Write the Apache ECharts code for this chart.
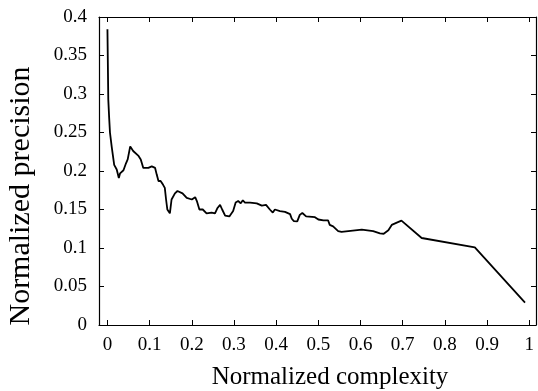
<!DOCTYPE html>
<html>
<head>
<meta charset="utf-8">
<script src="https://cdn.jsdelivr.net/npm/echarts@6/dist/echarts.min.js"></script>
<style>
html,body{margin:0;padding:0;background:#fff;}
#chart{width:538px;height:391px;}
</style>
</head>
<body>
<div id="chart"></div>
<script>
const complexity = [
  0, 0.002, 0.004, 0.006, 0.010, 0.016, 0.022, 0.027, 0.030, 0.038, 0.044, 0.048, 0.054, 0.061, 0.073, 0.079, 0.085, 0.097, 0.105, 0.113, 0.117, 0.121, 0.126, 0.132,
  0.136, 0.139, 0.142, 0.148, 0.152, 0.160, 0.166, 0.178, 0.188, 0.200, 0.208, 0.212, 0.218, 0.226, 0.235, 0.247, 0.255, 0.261, 0.267, 0.272, 0.279, 0.289, 0.298, 0.304, 0.310, 0.316, 0.321, 0.326, 0.338, 0.354, 0.366, 0.376, 0.385, 0.392, 0.397, 0.409, 0.421, 0.433,
  0.437, 0.442, 0.450, 0.456, 0.462, 0.471, 0.492, 0.500, 0.512, 0.523, 0.527, 0.535, 0.547, 0.555, 0.559, 0.603, 0.630, 0.646, 0.655, 0.666, 0.674, 0.686, 0.697, 0.745, 0.871, 0.990
];
const precision = [
  0.384, 0.293, 0.270, 0.250, 0.232, 0.208, 0.202, 0.191, 0.197, 0.201, 0.210, 0.215, 0.232, 0.226, 0.220, 0.215, 0.204, 0.204, 0.206, 0.204, 0.195, 0.187, 0.187, 0.182,
  0.178, 0.163, 0.150, 0.145, 0.163, 0.171, 0.174, 0.171, 0.165, 0.163, 0.166, 0.161, 0.150, 0.150, 0.145, 0.146, 0.145, 0.152, 0.156, 0.150, 0.142, 0.141, 0.148, 0.159, 0.161, 0.158, 0.162, 0.159, 0.159, 0.158, 0.155, 0.156, 0.150, 0.146, 0.150, 0.148, 0.147, 0.144,
  0.138, 0.135, 0.1345, 0.143, 0.1455, 0.141, 0.140, 0.137, 0.136, 0.136, 0.130, 0.128, 0.122, 0.121, 0.122, 0.124, 0.122, 0.119, 0.1185, 0.123, 0.130, 0.133, 0.1355, 0.113, 0.1007, 0.029
];
const xTicks = [0, 0.1, 0.2, 0.3, 0.4, 0.5, 0.6, 0.7, 0.8, 0.9, 1];
const xTitle = 'Normalized complexity';
const yTitle = 'Normalized precision';

const serif = '"Liberation Serif", "DejaVu Serif", serif';
const chart = echarts.init(document.getElementById('chart'), null, {renderer: 'canvas'});
const lineStyle = {color: '#000', width: 1.2};
const tickStyle = {color: '#000', width: 1};

const points = complexity.map((c, i) => [c, precision[i]]);

chart.setOption({
  animation: false,
  backgroundColor: '#fff',
  grid: {left: 99, right: 2, top: 17, bottom: 66, containLabel: false},
  xAxis: [{
    type: 'value', min: -0.02, max: 1.016,
    axisLine: {show: true, onZero: false, lineStyle: lineStyle},
    axisTick: {show: true, inside: true, length: 5, lineStyle: tickStyle, customValues: xTicks},
    axisLabel: {show: true, customValues: xTicks, margin: 11, color: '#000', fontFamily: serif, fontSize: 19,
      formatter: v => String(Math.round(v * 10) / 10)},
    splitLine: {show: false}
  }, {
    type: 'value', position: 'top', min: -0.02, max: 1.016,
    axisLine: {show: true, onZero: false, lineStyle: lineStyle},
    axisTick: {show: true, inside: true, length: 5, lineStyle: tickStyle, customValues: xTicks},
    axisLabel: {show: false},
    splitLine: {show: false}
  }],
  yAxis: [{
    type: 'value', min: 0, max: 0.4, interval: 0.05,
    axisLine: {show: true, onZero: false, lineStyle: lineStyle},
    axisTick: {show: true, inside: true, length: 5, lineStyle: tickStyle},
    axisLabel: {show: true, margin: 12, color: '#000', fontFamily: serif, fontSize: 19,
      formatter: v => String(Math.round(v * 100) / 100)},
    splitLine: {show: false}
  }, {
    type: 'value', position: 'right', min: 0, max: 0.4, interval: 0.05,
    axisLine: {show: true, onZero: false, lineStyle: lineStyle},
    axisTick: {show: true, inside: true, length: 5, lineStyle: tickStyle},
    axisLabel: {show: false},
    splitLine: {show: false}
  }],
  graphic: [{
    type: 'text', x: 330, y: 377,
    style: {text: xTitle, font: '25px ' + serif, fill: '#000', textAlign: 'center', textVerticalAlign: 'middle'}
  }, {
    type: 'text', x: 21, y: 196, rotation: Math.PI / 2,
    style: {text: yTitle, font: '30px ' + serif, fill: '#000', textAlign: 'center', textVerticalAlign: 'middle'}
  }],
  series: [{
    type: 'line', xAxisIndex: 0, yAxisIndex: 0,
    data: points, showSymbol: false, smooth: false,
    lineStyle: {color: '#000', width: 1.8}
  }]
});
</script>
</body>
</html>
